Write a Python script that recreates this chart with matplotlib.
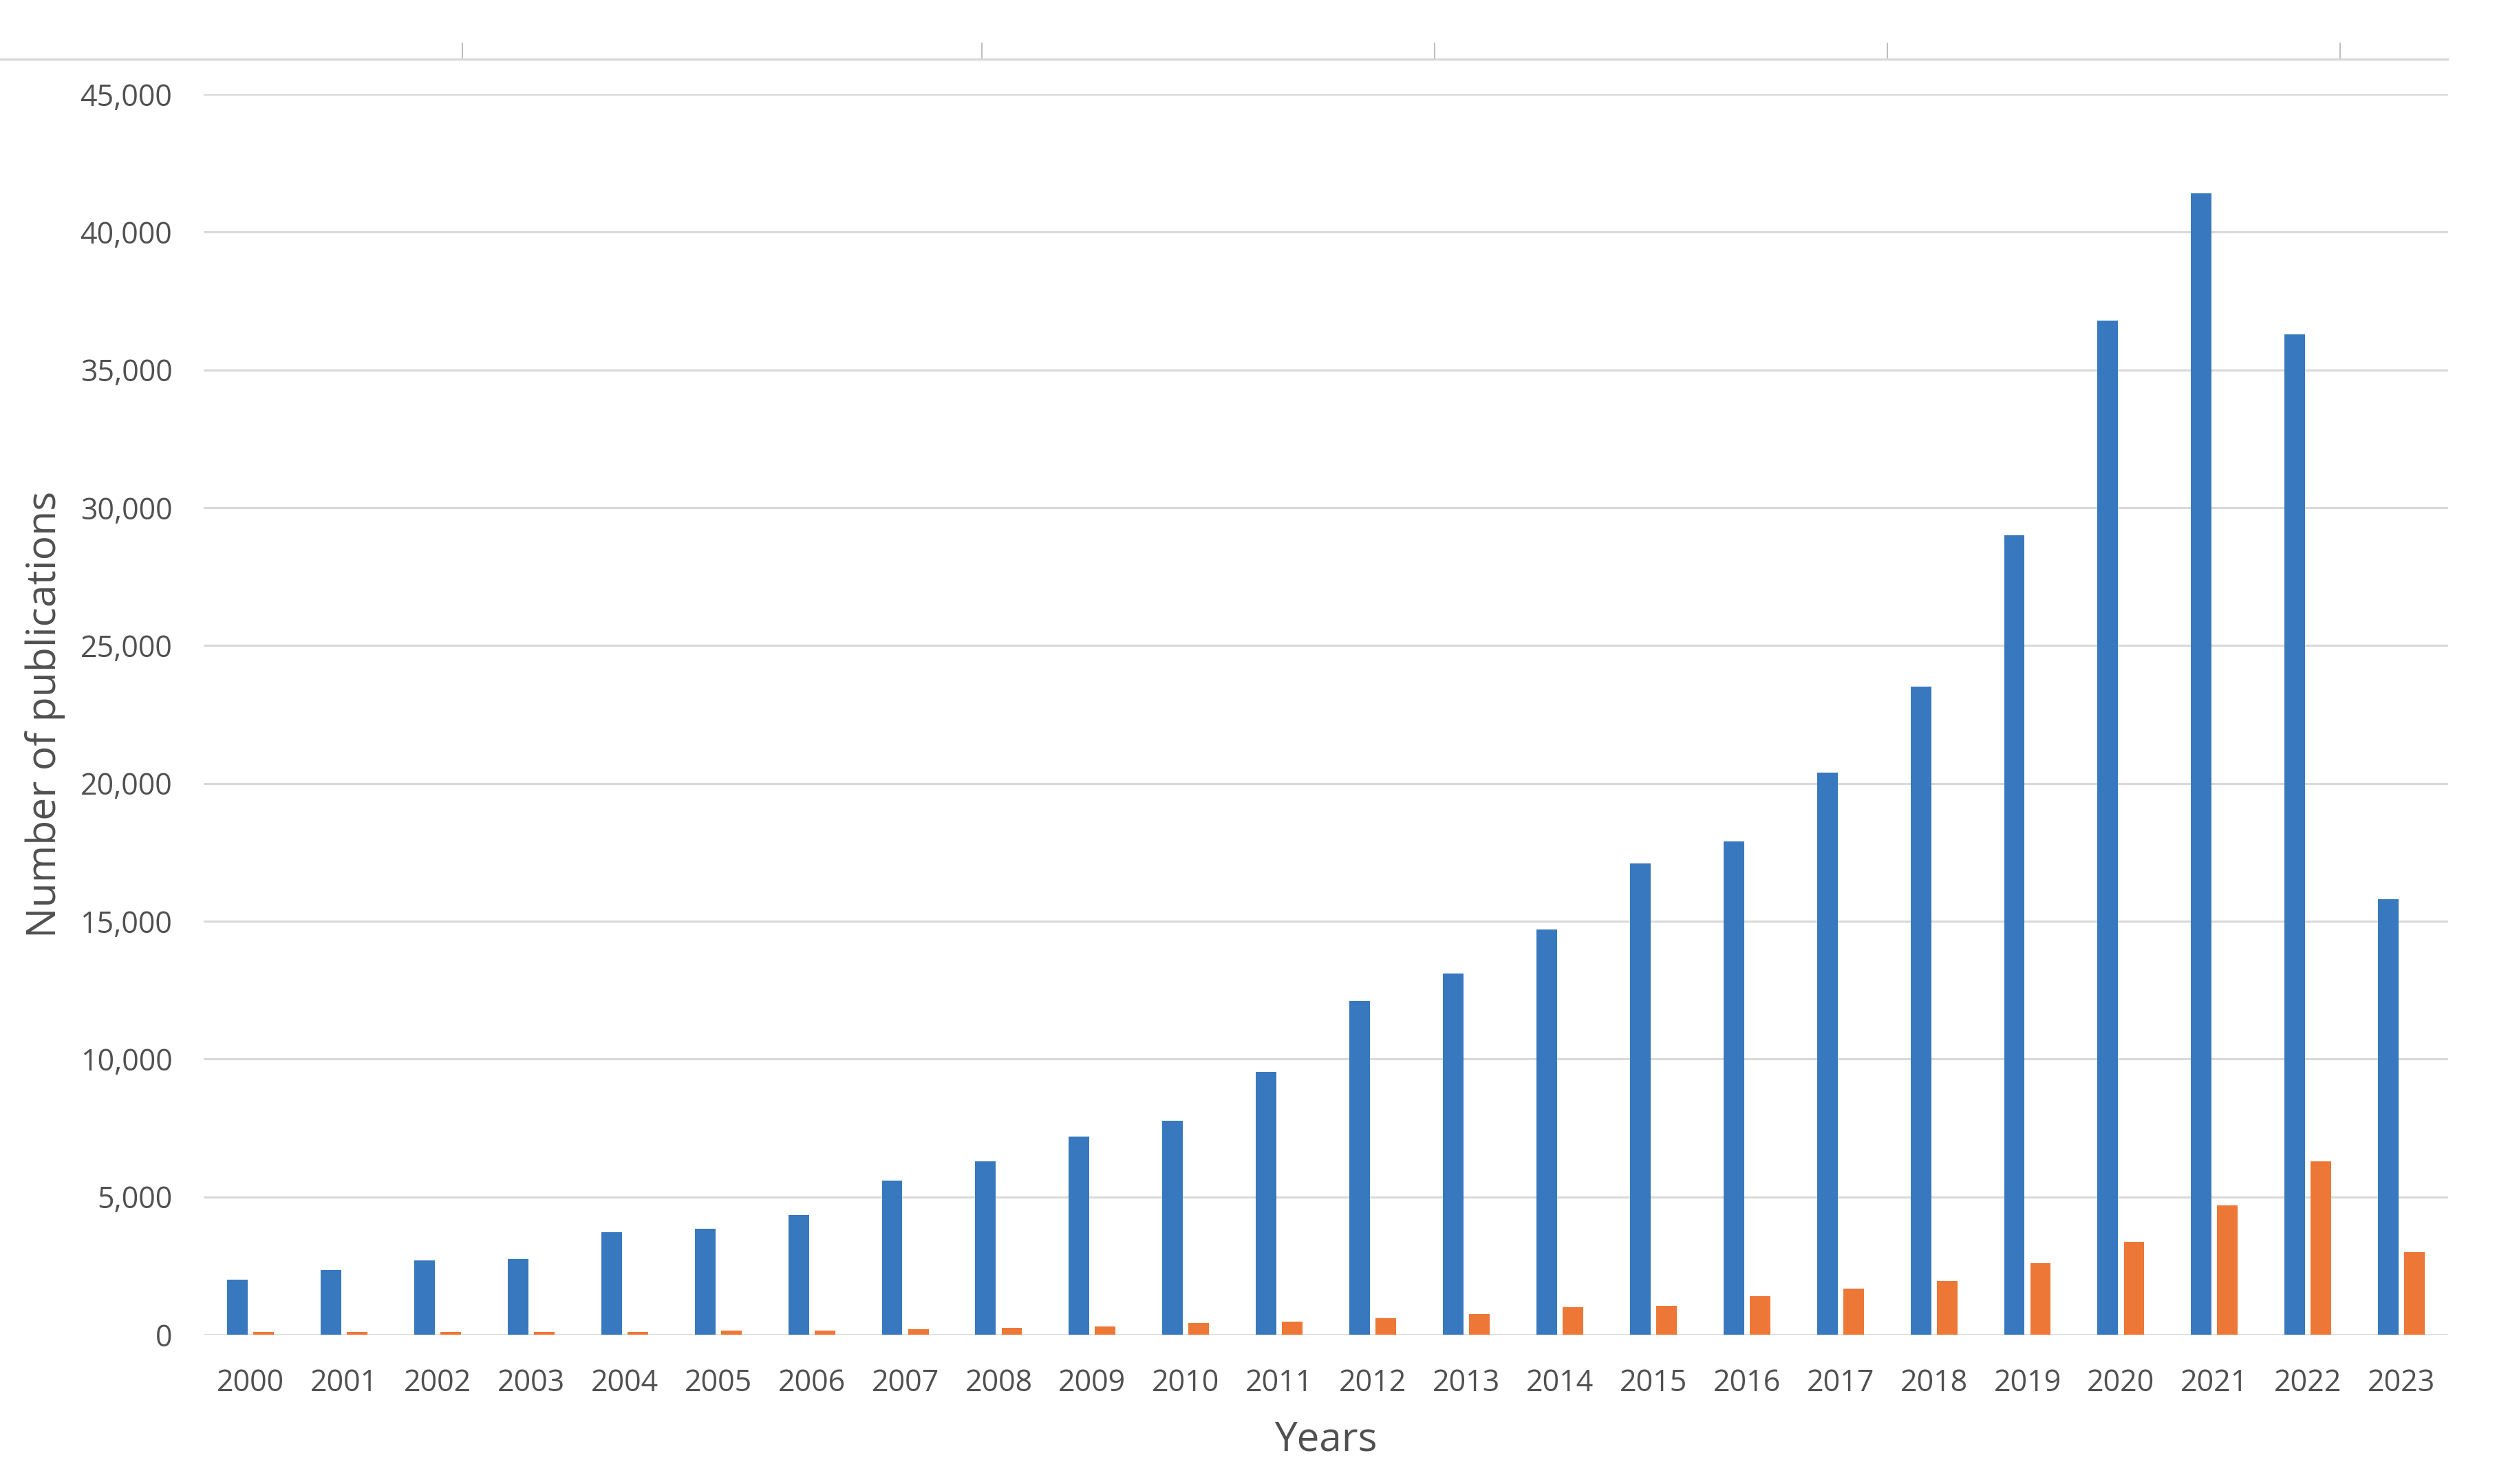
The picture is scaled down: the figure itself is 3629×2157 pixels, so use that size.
import numpy as np
import matplotlib
matplotlib.use("Agg")
import matplotlib.pyplot as plt
from matplotlib.ticker import FuncFormatter

# data
years = [str(y) for y in range(2000, 2024)]
series_a = [2000, 2350, 2700, 2750, 3730, 3840, 4340, 5600, 6300, 7200,
            7750, 9530, 12100, 13100, 14700, 17100, 17900, 20400, 23500, 29000,
            36800, 41400, 36300, 15800]
series_b = [90, 90, 100, 90, 90, 150, 150, 200, 250, 310,
            430, 480, 600, 760, 990, 1040, 1390, 1680, 1950, 2600,
            3380, 4690, 6300, 2990]
y_ticks = list(range(0, 45001, 5000))
# tick positions of the stray rule along the top edge (fraction of its length)
top_rule_ticks = [0.189, 0.401, 0.586, 0.771, 0.956]

blue = "#3778BE"
orange = "#ED7737"
grid_col = "#D9D9D9"
text_col = "#505050"

plt.rcParams["font.family"] = ["Open Sans", "DejaVu Sans"]

fig = plt.figure(figsize=(36.3, 21.57), dpi=100)
ax = fig.add_axes([0.0816, 0.1006, 0.8986, 0.8359])

x = np.arange(len(years))
w = 0.22
ax.bar(x - 0.14, series_a, width=w, color=blue, zorder=3)
ax.bar(x + 0.14, series_b, width=w, color=orange, zorder=3)

ax.set_xlim(-0.5, len(years) - 0.5)
ax.set_ylim(0, 45000)
ax.set_yticks(y_ticks)
ax.yaxis.set_major_formatter(FuncFormatter(lambda v, p: f"{int(v):,}"))
ax.set_xticks(x)
ax.set_xticklabels(years)

ax.grid(axis="y", color=grid_col, linewidth=2.2, zorder=0)
ax.set_axisbelow(True)
for s in ax.spines.values():
    s.set_visible(False)
ax.tick_params(axis="both", length=0, labelsize=31, labelcolor=text_col)
ax.tick_params(axis="x", pad=35)
ax.tick_params(axis="y", pad=33)

ax.set_xlabel("Years", fontsize=42, color=text_col)
ax.set_ylabel("Number of publications", fontsize=42.5, color=text_col)
ax.xaxis.set_label_coords(0.5, -0.085)
ax.xaxis.label.set_va("center")
ax.yaxis.set_label_coords(-0.0708, 0.5)
ax.yaxis.label.set_va("center")

# thin rule with ticks at the very top (cropped edge of the source figure)
top = fig.add_axes([0.0, 0.960, 0.98, 0.012])
top.set_xlim(0, 1)
top.set_ylim(0, 1)
top.set_facecolor("none")
for k in ["top", "left", "right"]:
    top.spines[k].set_visible(False)
top.spines["bottom"].set_color(grid_col)
top.spines["bottom"].set_linewidth(2.5)
top.set_yticks([])
top.set_xticks(top_rule_ticks)
top.set_xticklabels([])
top.tick_params(axis="x", direction="in", length=17, width=1.5, color="#BFBFBF")

fig.savefig("out.png", dpi=100, facecolor="white")
